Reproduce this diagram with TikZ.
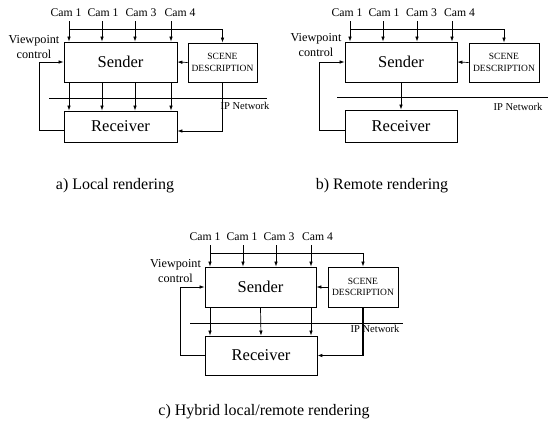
\documentclass[tikz,border=0pt]{standalone}
\usepackage{fontspec}
\setmainfont{Liberation Serif}
\usetikzlibrary{positioning,arrows.meta}

\begin{document}
\begin{tikzpicture}[x=1pt,y=-1pt,
  >={Latex[length=5pt,width=3.6pt]},
  line width=0.7pt,
  block/.style={draw,line width=0.8pt,inner sep=0pt,font=\fontsize{16.5}{18}\selectfont},
  scenebox/.style={draw,line width=0.8pt,inner sep=0pt,align=center,font=\fontsize{9.5}{11.5}\selectfont},
  cam/.style={inner sep=0pt,font=\fontsize{11.7}{13}\selectfont},
  vp/.style={inner sep=0pt,align=center,font=\fontsize{12.2}{15}\selectfont},
  net/.style={inner sep=0pt,font=\fontsize{10.5}{12}\selectfont},
  caption/.style={inner sep=0pt,font=\fontsize{16}{18}\selectfont}]
\useasboundingbox (0,0) rectangle (549,423);

% a) Local rendering
\node[block,minimum width=113pt,minimum height=40pt] (sendA) at (120.5,62) {Sender};
\node[scenebox,minimum width=69pt,minimum height=39pt] (sceneA) at (222.5,62.5) {SCENE\\DESCRIPTION};
\node[block,minimum width=113pt,minimum height=31pt] (recvA) at (120.5,126.5) {Receiver};
\node[cam] (camA1) at (66,13) {Cam 1};
\node[cam] (camA2) at (103,13) {Cam 1};
\node[cam] (camA3) at (141,13) {Cam 3};
\node[cam] (camA4) at (180,13) {Cam 4};
\node[vp] (vpA) at (34,47.5) {Viewpoint\\control};
\node[net] (netA) at (245,106) {IP Network};
\node[caption] (capA) at (115,186) {a) Local rendering};

\coordinate (inA1) at (69,21);
\coordinate (inA2) at (102,21);
\coordinate (inA3) at (135,21);
\coordinate (inA4) at (171,21);
\coordinate (busA) at (69,29);
\coordinate (fbA) at (39,0);
\coordinate (ipA1) at (49,98);
\coordinate (ipA2) at (267,98);

\draw[->] (inA1) -- (inA1 |- sendA.north);
\draw[->] (inA2) -- (inA2 |- sendA.north);
\draw[->] (inA3) -- (inA3 |- sendA.north);
\draw[->] (inA4) -- (inA4 |- sendA.north);
\draw[->] (busA) -| (sceneA.north);
\draw[->] (sceneA.west) -- (sendA.east);
\draw (ipA1) -- (ipA2);
\draw[->] (inA1 |- sendA.south) -- (inA1 |- recvA.north);
\draw[->] (inA2 |- sendA.south) -- (inA2 |- recvA.north);
\draw[->] (inA3 |- sendA.south) -- (inA3 |- recvA.north);
\draw[->] (inA4 |- sendA.south) -- (inA4 |- recvA.north);
\draw[->] (sceneA.south) |- ([yshift=-4.5pt]recvA.east);
\draw[->] ([yshift=-3.5pt]recvA.west) -| (fbA |- sendA.west) -- (sendA.west);

% b) Remote rendering
\node[block,minimum width=112pt,minimum height=40pt] (sendB) at (401,62) {Sender};
\node[scenebox,minimum width=70pt,minimum height=39pt] (sceneB) at (504,62.5) {SCENE\\DESCRIPTION};
\node[block,minimum width=112pt,minimum height=32pt] (recvB) at (401,126) {Receiver};
\node[cam] (camB1) at (347,13) {Cam 1};
\node[cam] (camB2) at (384,13) {Cam 1};
\node[cam] (camB3) at (421.5,13) {Cam 3};
\node[cam] (camB4) at (459.5,13) {Cam 4};
\node[vp] (vpB) at (316,45.5) {Viewpoint\\control};
\node[net] (netB) at (518,107) {IP Network};
\node[caption] (capB) at (382,186) {b) Remote rendering};

\coordinate (inB1) at (350,21);
\coordinate (inB2) at (383,21);
\coordinate (inB3) at (417,21);
\coordinate (inB4) at (452,21);
\coordinate (busB) at (350,29);
\coordinate (fbB) at (319,0);
\coordinate (ipB1) at (337,97);
\coordinate (ipB2) at (548,97);

\draw[->] (inB1) -- (inB1 |- sendB.north);
\draw[->] (inB2) -- (inB2 |- sendB.north);
\draw[->] (inB3) -- (inB3 |- sendB.north);
\draw[->] (inB4) -- (inB4 |- sendB.north);
\draw[->] (busB) -| (sceneB.north);
\draw[->] (sceneB.west) -- (sendB.east);
\draw (ipB1) -- (ipB2);
\draw[->] (sendB.south) -- (recvB.north);
\draw[->] ([yshift=-4pt]recvB.west) -| (fbB |- sendB.west) -- (sendB.west);

% c) Hybrid local/remote rendering
\node[block,minimum width=111pt,minimum height=40pt] (sendC) at (260.5,287) {Sender};
\node[scenebox,minimum width=70pt,minimum height=40pt] (sceneC) at (363,287) {SCENE\\DESCRIPTION};
\node[block,minimum width=112pt,minimum height=39pt] (recvC) at (261,355.5) {Receiver};
\node[cam] (camC1) at (205,237) {Cam 1};
\node[cam] (camC2) at (242,237) {Cam 1};
\node[cam] (camC3) at (279,237) {Cam 3};
\node[cam] (camC4) at (317.5,237) {Cam 4};
\node[vp] (vpC) at (175.5,271.5) {Viewpoint\\control};
\node[net] (netC) at (375,329) {IP Network};
\node[caption] (capC) at (264,412) {c) Hybrid local/remote rendering};

\coordinate (inC1) at (210,245);
\coordinate (inC2) at (243,245);
\coordinate (inC3) at (276,245);
\coordinate (inC4) at (311,245);
\coordinate (busC) at (210,253);
\coordinate (fbC) at (180,0);
\coordinate (ipC1) at (190,323);
\coordinate (ipC2) at (403,323);

\draw[->] (inC1) -- (inC1 |- sendC.north);
\draw[->] (inC2) -- (inC2 |- sendC.north);
\draw[->] (inC3) -- (inC3 |- sendC.north);
\draw[->] (inC4) -- (inC4 |- sendC.north);
\draw[->] (busC) -| (sceneC.north);
\draw[->] (sceneC.west) -- (sendC.east);
\draw (ipC1) -- (ipC2);
\draw[->] (inC1 |- sendC.south) -- (inC1 |- recvC.north);
\draw[->] (sendC.south) -- (recvC.north);
\draw[->] (inC4 |- sendC.south) -- (inC4 |- recvC.north);
\draw[->,line width=1.3pt] (sceneC.south) |- (recvC.east);
\draw[->] (recvC.west) -| (fbC |- sendC.west) -- (sendC.west);
\end{tikzpicture}
\end{document}
